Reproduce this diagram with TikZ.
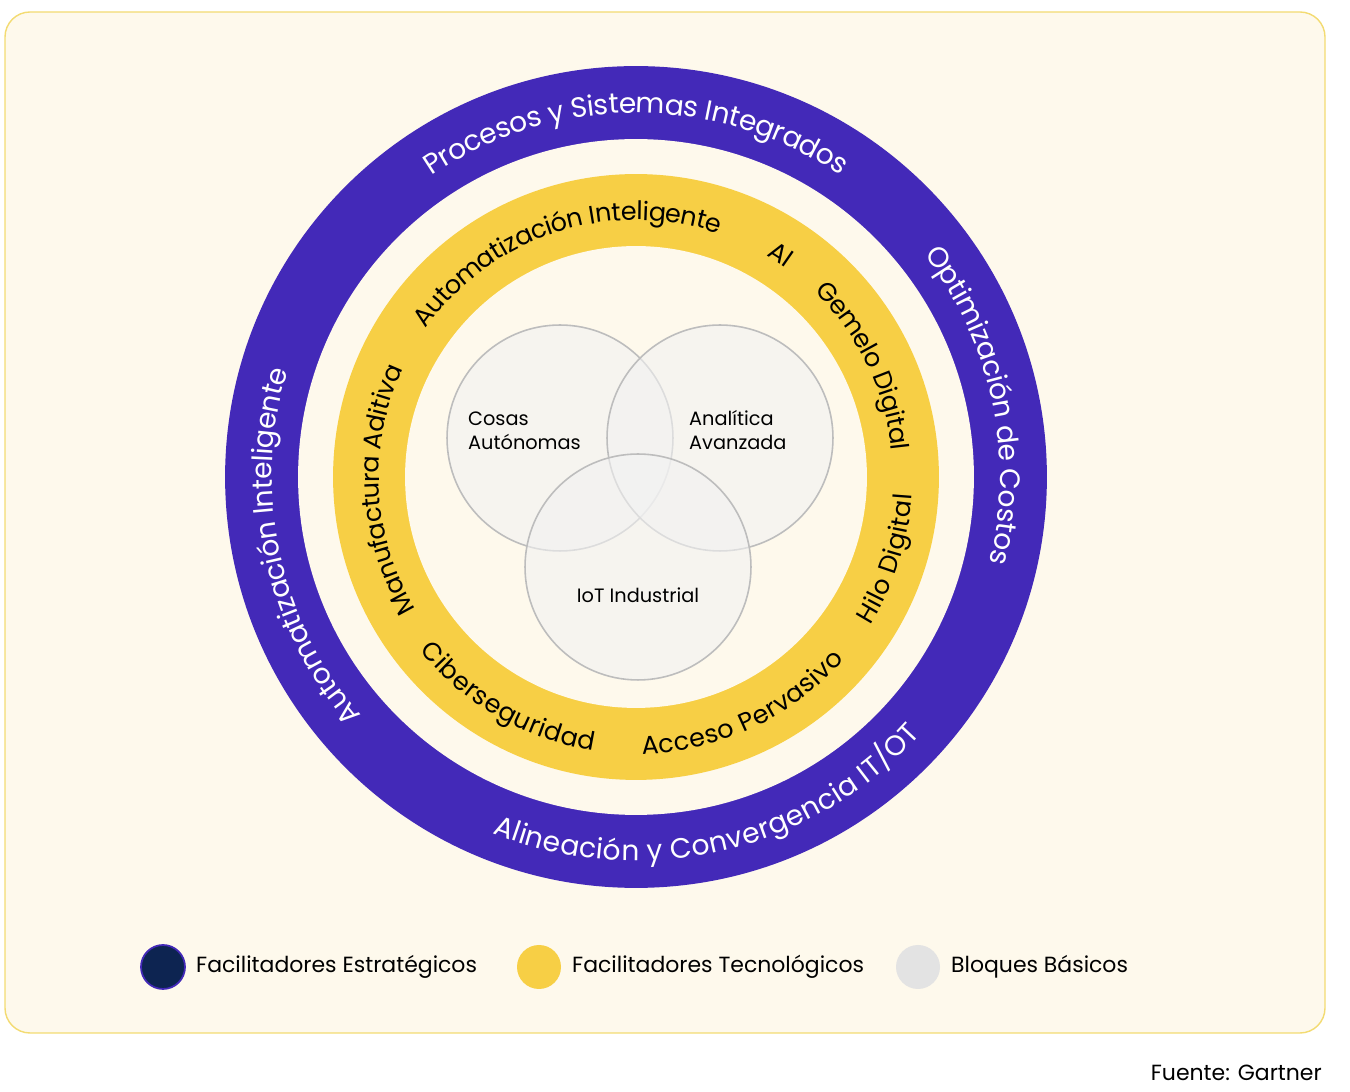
\documentclass[tikz,border=0pt]{standalone}
\usepackage{fontspec}
\setmainfont{Poppins}
\usetikzlibrary{decorations.text,calc}
\definecolor{ringpurple}{HTML}{4329B8}
\definecolor{ringyellow}{HTML}{F7CF45}
\definecolor{cream}{HTML}{FEF9EC}
\definecolor{frame}{HTML}{F3DB72}
\definecolor{venngray}{HTML}{F2F2F2}
\definecolor{vennline}{HTML}{BDBDBD}
\definecolor{navy}{HTML}{0D2451}
\definecolor{legendgray}{HTML}{E3E3E3}
\newcommand\purplefont{\fontsize{16}{16}\selectfont\color{white}}
\newcommand\yellowfont{\fontsize{14.5}{15}\selectfont\color{black}}
% #1 radius, #2 mid angle, #3 1 = clockwise / -1 = counterclockwise, #4 font, #5 text
\newcommand\ringtext[5]{%
  \path[decorate,decoration={text along path,text align=center,raise=-0.2cm,
    text={|#4|#5}}]
    ($(centre)+({#2+#3*85}:#1)$) arc[start angle={#2+#3*85},end angle={#2-#3*85},radius=#1];}
\begin{document}
\begin{tikzpicture}[x=0.02cm,y=0.02cm,
    venn/.style={circle,draw=vennline,line width=0.9pt,fill=venngray,fill opacity=0.6,minimum size=4.52cm},
    venn label/.style={font=\fontsize{11}{13.5}\selectfont,align=left,anchor=west},
    legend dot/.style={circle,minimum size=0.88cm,inner sep=0pt},
    legend label/.style={font=\fontsize{12.5}{14}\selectfont,anchor=west}]
  \useasboundingbox (0,0) rectangle (1350,1092);
  \draw[frame,fill=cream,line width=0.8pt,rounded corners=0.5cm] (5,59) rectangle (1325,1080);
  \coordinate (centre) at (636,615);
  % rings
  \fill[ringpurple] (centre) circle[radius=8.22cm];
  \fill[cream] (centre) circle[radius=6.76cm];
  \fill[ringyellow] (centre) circle[radius=6.06cm];
  \fill[cream] (centre) circle[radius=4.62cm];
  % strategic enablers
  \ringtext{7.48cm}{90}{1}{\purplefont}{Procesos y Sistemas Integrados}
  \ringtext{7.48cm}{12}{1}{\purplefont}{Optimización de Costos}
  \ringtext{7.48cm}{-77}{-1}{\purplefont}{Alineación y Convergencia IT/OT}
  \ringtext{7.48cm}{192}{1}{\purplefont}{Automatización Inteligente}
  % technology enablers
  \ringtext{5.34cm}{108}{1}{\yellowfont}{Automatización Inteligente}
  \ringtext{5.34cm}{57}{1}{\yellowfont}{AI}
  \ringtext{5.34cm}{26}{1}{\yellowfont}{Gemelo Digital}
  \ringtext{5.34cm}{-18}{-1}{\yellowfont}{Hilo Digital}
  \ringtext{5.34cm}{-65}{-1}{\yellowfont}{Acceso Pervasivo}
  \ringtext{5.34cm}{-120}{-1}{\yellowfont}{Ciberseguridad}
  \ringtext{5.34cm}{183}{1}{\yellowfont}{Manufactura Aditiva}
  % building blocks
  \node[venn] (things) at (560,654) {};
  \node[venn] (analytics) at (720,654) {};
  \node[venn] (iot) at (638,525) {};
  \node[venn label] (thingslabel) at (462,661) {Cosas\\Autónomas};
  \node[venn label] (analyticslabel) at (683,662) {Analítica\\Avanzada};
  \node[font=\fontsize{11}{13.5}\selectfont] (iotlabel) at (638,497) {IoT Industrial};
  % legend
  \node[legend dot,fill=navy,draw=ringpurple,line width=1pt] (strategic) at (163,125) {};
  \node[legend label] (strategiclabel) at (190,125) {Facilitadores Estratégicos};
  \node[legend dot,fill=ringyellow] (technology) at (539,125) {};
  \node[legend label] (technologylabel) at (566,125) {Facilitadores Tecnológicos};
  \node[legend dot,fill=legendgray] (blocks) at (918,125) {};
  \node[legend label] (blockslabel) at (945,125) {Bloques Básicos};
  \node[font=\fontsize{12.5}{14}\selectfont,anchor=east] (source) at (1328,19) {Fuente: Gartner};
\end{tikzpicture}
\end{document}
